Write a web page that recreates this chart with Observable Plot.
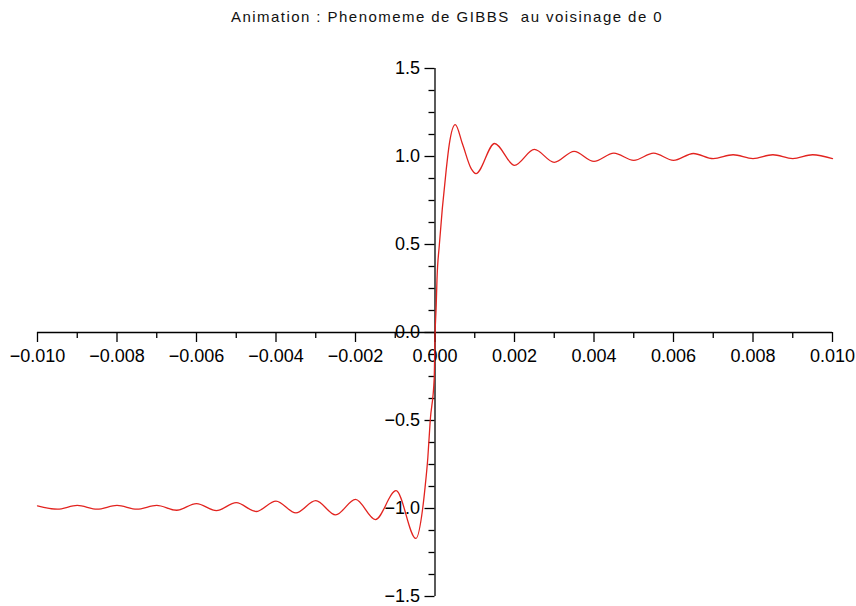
<!DOCTYPE html>
<html><head><meta charset="utf-8">
<script src="https://cdn.jsdelivr.net/npm/d3@7"></script>
<script src="https://cdn.jsdelivr.net/npm/@observablehq/plot@0.6"></script>
<style>
body{margin:0;background:#fff;width:856px;height:606px;overflow:hidden;font-family:"Liberation Sans",Arial,sans-serif;}
#title{position:absolute;left:231px;top:8px;font-size:15px;line-height:17px;letter-spacing:1.45px;white-space:pre;color:#111;}
#chart{position:absolute;left:0;top:34px;}
#chart svg{overflow:visible;}
</style></head><body>
<div id="title"></div><div id="chart"></div>
<script>
const titleText = "Animation : Phenomeme de GIBBS  au voisinage de 0";

// curve points
const xValues = [
  -0.0100, -0.0095, -0.0090, -0.0085, -0.0080, -0.0075, -0.0070, -0.0065, -0.0060, -0.0055,
  -0.0050, -0.0045, -0.0040, -0.0035, -0.0030, -0.0025, -0.0020, -0.0015, -0.00098, -0.00048,
  -0.00031, -0.00025, -0.00018, -0.00012, -0.00002, 0.0, 0.00003, 0.00005, 0.00011, 0.00028,
  0.00036, 0.00051, 0.00069, 0.00091, 0.00103, 0.0015, 0.0020, 0.0025, 0.0030, 0.0035,
  0.0040, 0.0045, 0.0050, 0.0055, 0.0060, 0.0065, 0.0070, 0.0075, 0.0080, 0.0085,
  0.0090, 0.0095, 0.0100
];
const yValues = [
  -0.985, -1.004, -0.982, -1.004, -0.982, -1.004, -0.982, -1.010, -0.972, -1.012,
  -0.967, -1.017, -0.958, -1.025, -0.955, -1.036, -0.948, -1.063, -0.899, -1.170,
  -1.000, -0.880, -0.710, -0.500, -0.260, -0.020, 0.150, 0.300, 0.500, 0.920,
  1.070, 1.181, 1.072, 0.931, 0.903, 1.074, 0.950, 1.040, 0.967, 1.029,
  0.972, 1.019, 0.978, 1.019, 0.978, 1.017, 0.988, 1.010, 0.988, 1.010,
  0.988, 1.010, 0.988
];

const xTicks = [-0.010, -0.008, -0.006, -0.004, -0.002, 0.000, 0.002, 0.004, 0.006, 0.008, 0.010];
const xTickLabels = ["\u22120.010", "\u22120.008", "\u22120.006", "\u22120.004", "\u22120.002", "0.000", "0.002", "0.004", "0.006", "0.008", "0.010"];
const xMinorTicks = [-0.009, -0.007, -0.005, -0.003, -0.001, 0.001, 0.003, 0.005, 0.007, 0.009];
const yTicks = [-1.5, -1.0, -0.5, 0.0, 0.5, 1.0, 1.5];
const yTickLabels = ["\u22121.5", "\u22121.0", "\u22120.5", "0.0", "0.5", "1.0", "1.5"];
const yMinorTicks = [-1.375, -1.25, -1.125, -0.875, -0.75, -0.625, -0.375, -0.25, -0.125,
                     0.125, 0.25, 0.375, 0.625, 0.75, 0.875, 1.125, 1.25, 1.375];

document.getElementById("title").textContent = titleText;

const SVGNS = "http://www.w3.org/2000/svg";
function wrapShift(g, tx, ty) {
  if (!g) return g;
  const w = document.createElementNS(SVGNS, "g");
  w.setAttribute("transform", `translate(${tx},${ty})`);
  w.appendChild(g);
  return w;
}
// place x axis on y = 0
function atY0(index, scales, values, dims, context, next) {
  const g = next(index, scales, values, dims, context);
  return wrapShift(g, 0, scales.y(0) - (dims.height - dims.marginBottom));
}
// place y axis on x = 0
function atX0(index, scales, values, dims, context, next) {
  const g = next(index, scales, values, dims, context);
  return wrapShift(g, scales.x(0) - dims.marginLeft, 0);
}

const chart = Plot.plot({
  width: 856,
  height: 572,
  marginLeft: 37,
  marginRight: 24,
  marginTop: 34,
  marginBottom: 10,
  style: {fontFamily: "'Liberation Sans', Arial, sans-serif", fontSize: "18px", color: "#000", background: "#fff"},
  x: {domain: [-0.01, 0.01], axis: null},
  y: {domain: [-1.5, 1.5], axis: null},
  marks: [
    Plot.ruleY([0], {stroke: "#000", strokeWidth: 1.3}),
    Plot.ruleX([0], {stroke: "#000", strokeWidth: 1.3}),
    Plot.axisX(xMinorTicks, {anchor: "bottom", tickSize: 6, tickFormat: () => "", strokeWidth: 1.3, label: null, render: atY0}),
    Plot.axisX(xTicks, {anchor: "bottom", tickSize: 10, tickPadding: 7, strokeWidth: 1.3, label: null,
      tickFormat: (d) => xTickLabels[xTicks.indexOf(d)], render: atY0}),
    Plot.axisY(yMinorTicks, {anchor: "left", tickSize: 6, tickFormat: () => "", strokeWidth: 1.3, label: null, render: atX0}),
    Plot.axisY(yTicks, {anchor: "left", tickSize: 10, tickPadding: 5, strokeWidth: 1.3, label: null,
      tickFormat: (d) => yTickLabels[yTicks.indexOf(d)], render: atX0}),
    Plot.line(xValues, {x: xValues, y: yValues, curve: "monotone-x", stroke: "#e2231f", strokeWidth: 1.3})
  ]
});
document.getElementById("chart").appendChild(chart);
</script>
</body></html>
